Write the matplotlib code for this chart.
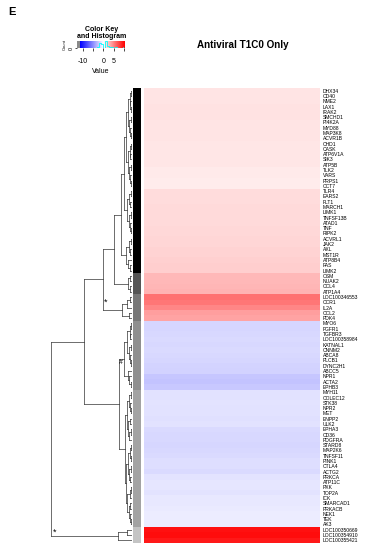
import numpy as np
import matplotlib
matplotlib.use('Agg')
import matplotlib.pyplot as plt
from matplotlib.colors import LinearSegmentedColormap, TwoSlopeNorm, ListedColormap

plt.rcParams['font.family'] = ['Liberation Sans', 'DejaVu Sans']

# gene labels, top to bottom
genes = ['DHX34', 'CD40', 'NME2', 'LAX1', 'IRAK2', 'SMCHD1', 'PI4K2A', 'MYD88', 'MAP3K8', 'ACVR1B',
         'CHD1', 'CASK', 'ATP6V1A', 'SIK3', 'ATP5B', 'TLK2', 'VARS', 'PRPS1', 'CCT7', 'TLR4',
         'EARS2', 'FLT1', 'MARCH1', 'LIMK1', 'TNFSF13B', 'ATAD1', 'TNF', 'RIPK2', 'ACVRL1', 'JAK2',
         'AXL', 'MST1R', 'ATP8B4', 'FAS', 'LIMK2', 'OSM', 'NUAK2', 'CCL4', 'ATP1A4', 'LOC100346553',
         'CCR1', 'IL2A', 'CCL2', 'PDK4', 'MYO6', 'FGFR1', 'TGFBR3', 'LOC100358984', 'KATNAL1', 'CNNM2',
         'ABCA8', 'PLCB1', 'DYNC2H1', 'ABCC5', 'NPR1', 'ACTA2', 'EPHB3', 'MYH11', 'COLEC12', 'STK38',
         'NPR2', 'MET', 'ENPP2', 'ULK2', 'EPHA3', 'CD36', 'PDGFRA', 'STARD8', 'MAP2K6', 'TNFSF11',
         'PINK1', 'CTLA4', 'ACTG2', 'PRKCA', 'ATP11C', 'PXK', 'TOP2A', 'ICK', 'SMARCAD1', 'PRKACB',
         'NEK1', 'TEK', 'AK3', 'LOC100350669', 'LOC100354910', 'LOC100355421']

# heatmap values (single column)
values = [1.1, 1.1, 1.1, 1.2, 1.2, 1.2, 1.1, 1.1, 1.1, 1.1,
          1.0, 1.0, 1.0, 1.0, 1.0, 0.9, 0.9, 0.8, 0.8, 1.4,
          1.4, 1.4, 1.5, 1.5, 1.5, 1.5, 1.6, 1.6, 1.7, 1.7,
          1.8, 1.8, 1.9, 2.0, 2.0, 2.9, 2.9, 3.0, 3.1, 5.8,
          5.6, 5.0, 4.0, 3.7, -1.8, -1.8, -1.7, -1.6, -1.7, -1.6,
          -1.7, -1.8, -1.9, -2.0, -2.5, -2.6, -2.4, -1.3, -1.3, -1.2,
          -1.3, -1.3, -1.4, -1.3, -1.6, -1.7, -1.7, -1.8, -1.7, -1.6,
          -1.5, -1.5, -1.6, -1.2, -1.1, -1.1, -1.2, -1.0, -1.0, -0.9,
          -0.8, -0.8, -0.8, 9.8, 10.0, 9.5]

# cluster side colours per row group
side_groups = [35, 4, 5, 13, 26, 3]
side_colors = ['#000000', '#555555', '#777777', '#8f8f8f', '#a3a3a3', '#c4c4c4']

# row dendrogram: [height, left, right], leaves are row indices
K1a = [6, [4, [2.5, [1.2, 0, 1], [1.8, 2, [0.8, 3, 4]]], [3, [1.5, 5, 6], [2, 7, [1, 8, 9]]]],
       [4.5, [2.2, [1, 10, 11], [1.6, 12, 13]], [3.2, [1.4, 14, 15], [2.1, 16, [0.9, 17, 18]]]]]
K1b = [5, [2.6, [1.2, 19, 20], [1.9, 21, 22]], [3.5, [1.5, 23, 24], [2.4, 25, [1.1, 26, 27]]]]
K2 = [6.5, [3, [1.3, 28, 29], [2, 30, 31]], [4, 32, [1.7, 33, 34]]]
K = [11, [8.5, K1a, K1b], K2]
D = [4, [2, 35, 36], [2.5, 37, 38]]
R2 = [10, [5, [2, 39, 40], 41], [3, 42, 43]]
R = [29, [18, K, D], R2]
Bl1 = [8, [5, [2.5, [1.2, 44, 45], [1.8, 46, 47]], [3.5, [1.5, 48, 49], [2.2, 50, [1, 51, 52]]]],
       [4.5, 53, [3, 54, [1.4, 55, 56]]]]
Bl2 = [7, [5, [3, [1.5, 57, 58], [2.2, 59, [1, 60, 61]]], [3.8, [1.8, 62, 63], [2.6, [1.2, 64, 65], 66]]],
       [6, [4, [2, [1, 67, 68], [1.5, 69, 70]], [2.8, [1.3, 71, 72], [1.9, 73, 74]]],
        [4.6, [2.4, [1.1, 75, 76], 77], [3.3, [1.6, 78, 79], [2.1, 80, [0.9, 81, 82]]]]]]
Bl = [13, Bl1, Bl2]
B = [14, [5, 83, 84], 85]
tree = [81, [48, R, Bl], B]

fig = plt.figure(figsize=(3.75, 5.5), dpi=100)


def px_axes(x0, y0, x1, y1):
    return fig.add_axes([x0 / 375, 1 - y1 / 550, (x1 - x0) / 375, (y1 - y0) / 550])


cmap = LinearSegmentedColormap.from_list('bwr_key', ['#0000ff', '#ffffff', '#ff0000'])
norm = TwoSlopeNorm(vcenter=0, vmin=-11.3, vmax=10.5)
n = len(genes)

# heatmap
ax = px_axes(144, 88, 320, 543)
ax.imshow(np.array(values).reshape(-1, 1), cmap=cmap, norm=norm, aspect='auto',
          interpolation='nearest')
ax.set_xticks([])
ax.yaxis.tick_right()
ax.set_yticks(range(n))
ax.set_yticklabels(genes, fontsize=3.6)
ax.tick_params(axis='y', length=0, pad=2)
for s in ax.spines.values():
    s.set_visible(False)

# side colour bar
side_idx = np.repeat(np.arange(len(side_groups)), side_groups).reshape(-1, 1)
axs = px_axes(133, 88, 141, 543)
axs.imshow(side_idx, cmap=ListedColormap(side_colors), aspect='auto', interpolation='nearest',
           vmin=-0.5, vmax=len(side_colors) - 0.5)
axs.axis('off')

# dendrogram
axd = px_axes(50, 88, 132, 543)


def draw(node):
    if not isinstance(node, list):
        return node, 0
    h, left, right = node
    yl, hl = draw(left)
    yr, hr = draw(right)
    axd.plot([hl, h], [yl, yl], color='#333333', lw=0.5)
    axd.plot([hr, h], [yr, yr], color='#333333', lw=0.5)
    axd.plot([h, h], [yl, yr], color='#333333', lw=0.5)
    return (yl + yr) / 2, h


draw(tree)
axd.set_xlim(82, 0)
axd.set_ylim(n - 0.5, -0.5)
axd.axis('off')
axd.text(77, 83.4, '*', fontsize=6.5, ha='center', va='center')
axd.text(26, 39.9, '*', fontsize=6.5, ha='center', va='center')
axd.text(11.5, 51.3, '#', fontsize=5, ha='center', va='center')

# colour key with histogram
axk = px_axes(77, 41, 125, 48)
axk.set_facecolor('#8a8a8a')
grad = np.linspace(-11.3, 10.5, 200).reshape(1, -1)
axk.imshow(grad, cmap=cmap, norm=norm, aspect='auto', extent=[-11.3, 10.5, 0, 1])
counts, edges = np.histogram(values, bins=np.linspace(-11.3, 10.5, 23))
axk.step(edges[:-1], counts / counts.max() * 0.95, where='post', color='cyan', lw=0.6)
axk.set_xlim(-12.9, 10.5)
axk.set_ylim(0, 1)
axk.set_xticks([-10, 0, 5])
axk.set_xticklabels(['-10', '0', '5'], fontsize=5)
axk.set_xticks([-5, 10], minor=True)
axk.tick_params(axis='x', which='both', length=2.5, width=0.5, pad=5)
axk.set_yticks([0])
axk.set_yticklabels(['0'], fontsize=4, rotation=90, va='center')
axk.tick_params(axis='y', length=1.5, width=0.5, pad=1)
axk.set_ylabel('Count', fontsize=3, labelpad=1)
axk.set_xlabel('Value', fontsize=5, labelpad=2)
for s in axk.spines.values():
    s.set_visible(False)

fig.text(102 / 375, 1 - 33 / 550, 'Color Key\nand Histogram', ha='center', va='center',
         fontsize=5, fontweight='bold', linespacing=0.95)
fig.text(243 / 375, 1 - 45 / 550, 'Antiviral T1C0 Only', ha='center', va='center',
         fontsize=7.1, fontweight='bold')
fig.text(8 / 375, 1 - 12 / 550, 'E', ha='left', va='center', fontsize=8, fontweight='bold')

fig.savefig('out.png', dpi=100)
